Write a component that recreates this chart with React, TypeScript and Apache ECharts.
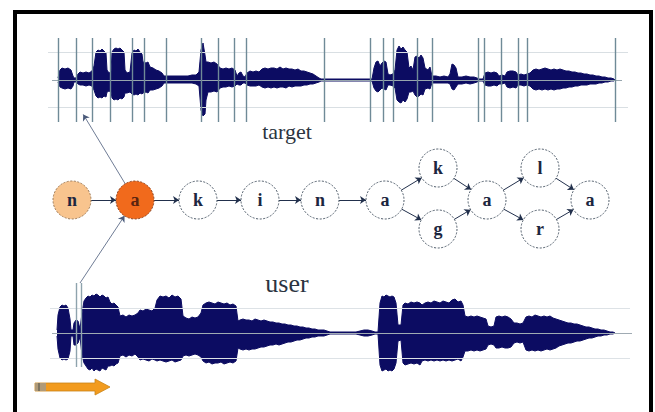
import { useEffect, useRef } from "react";
import * as echarts from "echarts";

// ---------- data ----------
// waveform envelopes: [time, upper amplitude, lower amplitude]
const targetEnvelope: number[][] = [
  [58, 2, 2], [60, 10, 7], [62, 12, 8], [65, 11, 9], [68, 12, 8], [71, 10, 9], [73, 4, 6], [74, 2, 2], [76, 2, 2],
  [78, 6, 4], [80, 8, 5], [83, 7, 5], [86, 8, 6], [89, 7, 5], [92, 9, 6], [94, 14, 10], [96, 28, 16], [98, 30, 18],
  [100, 29, 17], [102, 31, 18], [104, 29, 16], [106, 27, 17], [107, 10, 12], [109, 7, 11], [111, 8, 12], [112, 28, 18],
  [114, 31, 20], [116, 32, 19], [118, 31, 20], [120, 32, 18], [122, 30, 19], [124, 28, 17], [125, 10, 13], [127, 7, 13],
  [130, 8, 12], [132, 27, 14], [134, 30, 15], [136, 29, 14], [138, 31, 15], [140, 28, 13], [142, 26, 14], [143, 18, 13],
  [146, 17, 12], [148, 18, 13], [150, 13, 10], [153, 12, 10], [156, 10, 9], [159, 9, 8], [162, 7, 6], [164, 4, 3],
  [168, 4, 3], [172, 4, 3], [176, 4, 3], [180, 4, 3], [184, 4, 3], [188, 4, 3], [192, 5, 3], [196, 5, 4], [199, 8, 6],
  [201, 30, 30], [203, 37, 36], [205, 25, 34], [206, 18, 20], [208, 18, 12], [211, 17, 12], [214, 18, 11], [217, 16, 12],
  [220, 12, 8], [223, 11, 7], [226, 12, 7], [229, 11, 6], [232, 12, 7], [235, 10, 6], [237, 4, 4], [239, 7, 5], [241, 8, 5],
  [243, 4, 3], [245, 3, 3], [247, 7, 5], [250, 9, 6], [253, 8, 6], [256, 9, 6], [259, 8, 5], [262, 11, 7], [265, 12, 8],
  [268, 11, 7], [271, 12, 8], [274, 12, 7], [277, 11, 8], [280, 13, 7], [283, 11, 7], [286, 12, 8], [289, 11, 6],
  [292, 11, 7], [295, 10, 6], [298, 11, 6], [301, 9, 6], [304, 9, 5], [307, 8, 5], [310, 7, 4], [313, 6, 4], [316, 4, 3],
  [319, 2, 2], [321, 1, 1], [372, 1, 1], [374, 12, 8], [376, 18, 11], [378, 19, 12], [380, 14, 10], [382, 17, 8],
  [384, 19, 9], [386, 18, 10], [388, 6, 5], [390, 5, 5], [393, 6, 6], [395, 10, 8], [397, 30, 20], [399, 34, 22],
  [401, 31, 23], [403, 33, 20], [405, 30, 22], [407, 28, 19], [409, 12, 12], [411, 14, 12], [413, 10, 11], [415, 23, 15],
  [417, 24, 17], [419, 22, 16], [421, 25, 14], [423, 22, 15], [425, 12, 9], [428, 10, 8], [430, 13, 9], [432, 4, 3],
  [436, 4, 3], [440, 3, 3], [444, 4, 3], [448, 3, 3], [450, 6, 4], [452, 16, 9], [454, 15, 10], [456, 12, 7], [458, 3, 4],
  [462, 3, 4], [466, 4, 3], [470, 3, 4], [474, 3, 3], [477, 2, 2], [479, 1, 1], [483, 1, 1], [485, 7, 5], [488, 8, 6],
  [491, 7, 6], [494, 8, 5], [497, 7, 6], [499, 4, 4], [502, 5, 4], [505, 4, 3], [507, 8, 7], [510, 9, 8], [513, 9, 7],
  [516, 8, 8], [518, 5, 5], [521, 6, 5], [524, 5, 6], [527, 6, 5], [530, 7, 6], [533, 10, 9], [536, 11, 10], [539, 10, 9],
  [542, 11, 10], [545, 12, 9], [548, 11, 10], [551, 10, 9], [554, 11, 10], [557, 10, 9], [560, 11, 9], [563, 10, 8],
  [566, 9, 8], [569, 9, 7], [572, 8, 7], [575, 8, 6], [578, 7, 6], [581, 7, 5], [584, 6, 5], [587, 6, 5], [590, 5, 4],
  [593, 5, 4], [596, 4, 4], [599, 4, 3], [602, 3, 3], [605, 3, 2], [608, 2, 2], [611, 2, 1], [614, 1, 1], [615, 0, 0],
];

const userEnvelope: number[][] = [
  [57, 3, 3], [58, 18, 16], [60, 26, 25], [62, 28, 27], [64, 27, 26], [66, 28, 27], [68, 25, 26], [70, 14, 18], [71, 3, 3],
  [73, 3, 3], [74, 10, 12], [76, 13, 12], [78, 12, 10], [80, 4, 4], [82, 20, 22], [84, 32, 30], [86, 35, 33], [88, 37, 36],
  [90, 36, 37], [92, 38, 35], [94, 37, 38], [96, 39, 36], [98, 38, 37], [100, 36, 38], [102, 38, 35], [104, 37, 36],
  [106, 35, 37], [108, 36, 33], [110, 31, 33], [112, 29, 32], [114, 30, 33], [116, 28, 31], [118, 26, 30], [120, 17, 23],
  [123, 18, 22], [126, 16, 24], [129, 18, 22], [132, 17, 23], [135, 18, 21], [138, 20, 24], [140, 23, 27], [143, 22, 26],
  [146, 24, 27], [149, 23, 28], [152, 22, 26], [155, 25, 27], [157, 33, 28], [160, 37, 27], [163, 36, 28], [166, 37, 29],
  [169, 35, 28], [172, 38, 27], [175, 36, 29], [178, 37, 28], [181, 34, 27], [183, 17, 23], [186, 15, 22], [189, 14, 23],
  [192, 16, 22], [195, 15, 21], [198, 16, 22], [201, 20, 24], [203, 28, 28], [206, 30, 30], [209, 31, 29], [212, 30, 31],
  [215, 29, 30], [218, 31, 30], [221, 30, 29], [224, 29, 31], [227, 30, 30], [230, 28, 29], [233, 29, 30], [236, 27, 28],
  [238, 12, 15], [240, 13, 16], [243, 14, 17], [246, 13, 16], [249, 13, 17], [252, 12, 16], [255, 14, 16], [258, 13, 15],
  [261, 12, 14], [264, 13, 14], [267, 12, 13], [270, 11, 12], [273, 11, 12], [276, 10, 11], [279, 10, 12], [282, 9, 11],
  [285, 9, 10], [288, 8, 9], [291, 8, 9], [294, 7, 8], [297, 7, 7], [300, 6, 7], [303, 6, 6], [306, 5, 5], [309, 5, 5],
  [312, 4, 4], [315, 4, 4], [318, 3, 3], [321, 3, 3], [324, 3, 3], [327, 2, 2], [330, 1, 1], [356, 1, 1], [360, 2, 2],
  [364, 3, 3], [368, 3, 3], [372, 2, 2], [375, 1, 1], [378, 1, 1], [380, 30, 32], [382, 37, 38], [384, 36, 37],
  [386, 38, 36], [388, 37, 38], [390, 36, 37], [392, 37, 38], [394, 36, 36], [396, 30, 30], [398, 8, 8], [401, 8, 7],
  [403, 28, 30], [405, 30, 32], [408, 29, 31], [411, 31, 30], [414, 30, 31], [417, 31, 30], [420, 30, 32], [422, 28, 28],
  [425, 30, 27], [428, 31, 28], [431, 30, 27], [434, 32, 28], [437, 31, 27], [440, 30, 28], [443, 32, 27], [446, 31, 28],
  [449, 30, 27], [452, 33, 28], [455, 34, 27], [458, 31, 26], [461, 32, 28], [463, 28, 24], [465, 17, 18], [468, 16, 18],
  [471, 17, 17], [474, 16, 18], [477, 17, 17], [480, 16, 18], [483, 15, 17], [486, 14, 16], [488, 7, 12], [491, 6, 11],
  [494, 7, 12], [496, 16, 15], [499, 17, 15], [502, 16, 14], [505, 17, 15], [508, 16, 15], [511, 14, 14], [514, 10, 10],
  [517, 10, 9], [520, 9, 10], [523, 10, 9], [526, 16, 17], [529, 17, 18], [532, 16, 17], [535, 18, 18], [538, 17, 17],
  [541, 16, 18], [544, 17, 17], [547, 16, 16], [550, 17, 17], [553, 15, 16], [556, 14, 15], [559, 13, 13], [562, 12, 12],
  [565, 11, 11], [568, 10, 10], [571, 10, 10], [574, 9, 9], [577, 9, 8], [580, 8, 8], [583, 7, 7], [586, 6, 6],
  [589, 6, 5], [592, 5, 5], [595, 4, 4], [598, 4, 3], [601, 3, 3], [604, 3, 2], [607, 2, 2], [610, 1, 1], [613, 1, 1],
  [615, 0, 0],
];

// segment boundaries (time)
const targetBoundaries = [58, 76, 92, 110, 132, 144, 166, 201, 218, 234, 246, 324, 370, 383, 393, 417, 432, 478, 484, 501, 518, 527, 615];
const userBoundaries = [76, 81];

// pronunciation network
const nodeLetters = ["n", "a", "k", "i", "n", "a", "k", "g", "a", "l", "r", "a"];
const nodeTime = [72, 135, 198, 260, 320, 385, 438, 438, 487, 540, 540, 590];
const nodeLevel = [200, 200, 200, 200, 200, 200, 168, 229, 200, 168, 229, 200];
const nodeState = ["done", "current", "todo", "todo", "todo", "todo", "todo", "todo", "todo", "todo", "todo", "todo"];
const transitions: number[][] = [
  [0, 1], [1, 2], [2, 3], [3, 4], [4, 5], [5, 6], [5, 7], [6, 8], [7, 8], [8, 9], [8, 10], [9, 11], [10, 11],
];
// alignment pointers: [time, level] of the waveform anchors
const targetAnchor = [83, 114];
const userAnchor = [80, 283];

const NAVY = "#0c0c62";

export default function App() {
  const ref = useRef<HTMLDivElement>(null);
  useEffect(() => {
    if (!ref.current) return;
    const chart = echarts.init(ref.current, null, { renderer: "svg" });

    const waveSeries = (env: number[][], idx: number, name: string) => [
      {
        type: "line", name: name + "-up", xAxisIndex: idx, yAxisIndex: idx, z: 3, silent: true,
        data: env.map((p) => [p[0], p[1]]), symbol: "none",
        lineStyle: { color: NAVY, width: 1 }, areaStyle: { color: NAVY, opacity: 1 },
      },
      {
        type: "line", name: name + "-down", xAxisIndex: idx, yAxisIndex: idx, z: 3, silent: true,
        data: env.map((p) => [p[0], -p[2]]), symbol: "none",
        lineStyle: { color: NAVY, width: 1 }, areaStyle: { color: NAVY, opacity: 1 },
      },
    ];

    const hLine = (y: number, x0: number, x1: number, color: string) => [
      { coord: [x0, y], lineStyle: { color } },
      { coord: [x1, y] },
    ];

    const stateStyle = (s: string) =>
      s === "done"
        ? { color: "#f8c48e", borderColor: "#9c7a58", borderWidth: 1, borderType: [2, 1.5] }
        : s === "current"
        ? { color: "#f16a1c", borderColor: "#8a4422", borderWidth: 1, borderType: [2, 1.5] }
        : { color: "#ffffff", borderColor: "#4d5a68", borderWidth: 1, borderType: [2, 1.5] };

    const nodes: any[] = nodeLetters.map((l, i) => ({
      name: "s" + i,
      value: [nodeTime[i], nodeLevel[i]],
      symbolSize: 38,
      itemStyle: stateStyle(nodeState[i]),
      label: {
        show: true,
        formatter: l,
        color: nodeState[i] === "current" ? "#5a2410" : "#1c2640",
      },
    }));
    nodes.push({ name: "tAnchor", value: targetAnchor, symbolSize: 1, itemStyle: { opacity: 0 }, label: { show: false } });
    nodes.push({ name: "uAnchor", value: userAnchor, symbolSize: 1, itemStyle: { opacity: 0 }, label: { show: false } });
    const tIdx = nodeLetters.length;
    const uIdx = nodeLetters.length + 1;

    const links: any[] = transitions.map(([s, t]) => ({ source: s, target: t }));
    links.push({ source: 1, target: tIdx, lineStyle: { color: "#4a5a7a", width: 0.8 } });
    links.push({ source: uIdx, target: 1, lineStyle: { color: "#4a5a7a", width: 0.8 } });

    const axisBase = { show: false, splitLine: { show: false } };

    chart.setOption({
      animation: false,
      backgroundColor: "#ffffff",
      grid: [
        { left: 0, width: 655, top: 38, height: 84 },
        { left: 0, width: 655, top: 283, height: 100 },
        { left: 0, width: 655, top: 0, height: 412 },
      ],
      xAxis: [
        { ...axisBase, type: "value", gridIndex: 0, min: 0, max: 655 },
        { ...axisBase, type: "value", gridIndex: 1, min: 0, max: 655 },
        { ...axisBase, type: "value", gridIndex: 2, min: 0, max: 655 },
      ],
      yAxis: [
        { ...axisBase, type: "value", gridIndex: 0, min: -42, max: 42 },
        { ...axisBase, type: "value", gridIndex: 1, min: -50, max: 50 },
        { ...axisBase, type: "value", gridIndex: 2, min: 0, max: 412, inverse: true },
      ],
      series: [
        {
          type: "line", xAxisIndex: 0, yAxisIndex: 0, data: [], z: 1, silent: true,
          markLine: {
            symbol: "none", silent: true, label: { show: false },
            lineStyle: { type: "solid", width: 1 },
            data: [
              hLine(28, 48, 628, "#d9dfe3"),
              hLine(-27, 48, 628, "#d9dfe3"),
              hLine(0, 52, 622, "#98a6ae"),
            ],
          },
        },
        {
          type: "line", xAxisIndex: 1, yAxisIndex: 1, data: [], z: 1, silent: true,
          markLine: {
            symbol: "none", silent: true, label: { show: false },
            lineStyle: { type: "solid", width: 1 },
            data: [
              hLine(25, 50, 630, "#dde2e6"),
              hLine(-25, 50, 630, "#dde2e6"),
              hLine(0, 52, 632, "#a0abb3"),
            ],
          },
        },
        ...waveSeries(targetEnvelope, 0, "target"),
        ...waveSeries(userEnvelope, 1, "user"),
        {
          type: "line", xAxisIndex: 0, yAxisIndex: 0, data: [], z: 5, silent: true,
          markLine: {
            symbol: "none", silent: true, label: { show: false },
            lineStyle: { type: "solid", width: 1.4, color: "#6f8a97" },
            data: targetBoundaries.map((x) => ({ xAxis: x })),
          },
        },
        {
          type: "line", xAxisIndex: 1, yAxisIndex: 1, data: [], z: 5, silent: true,
          markLine: {
            symbol: "none", silent: true, label: { show: false },
            lineStyle: { type: "solid", width: 1.4, color: "#8ea3ad" },
            data: userBoundaries.map((x) => [{ coord: [x, 50] }, { coord: [x, -34] }]),
          },
        },
        {
          type: "graph",
          coordinateSystem: "cartesian2d",
          xAxisIndex: 2,
          yAxisIndex: 2,
          z: 4,
          silent: true,
          symbol: "circle",
          edgeSymbol: ["none", "arrow"],
          edgeSymbolSize: [0, 6],
          label: {
            show: true,
            position: "inside",
            fontFamily: "Liberation Serif, DejaVu Serif, serif",
            fontSize: 18,
            fontWeight: "bold",
          },
          lineStyle: { color: "#22304c", width: 1, opacity: 1, curveness: 0 },
          data: nodes,
          links,
        },
      ],
      graphic: [
        {
          type: "text", x: 287, y: 131, z: 10,
          style: {
            text: "target", fill: "#2b3441", font: "22px 'Liberation Serif', serif",
            textAlign: "center", textVerticalAlign: "middle",
          },
        },
        {
          type: "text", x: 287, y: 283, z: 10,
          style: {
            text: "user", fill: "#2b3441", font: "26px 'Liberation Serif', serif",
            textAlign: "center", textVerticalAlign: "middle",
          },
        },
        {
          type: "polygon", z: 10,
          shape: {
            points: [[35, 383], [95, 383], [95, 379], [110, 387], [95, 395], [95, 391], [35, 391]],
          },
          style: { fill: "#f29b1e", stroke: "#c98416", lineWidth: 0.8 },
        },
        { type: "rect", z: 11, shape: { x: 35, y: 383, width: 11, height: 8 }, style: { fill: "#b09a78" } },
        { type: "rect", z: 12, shape: { x: 38, y: 383, width: 2, height: 8 }, style: { fill: "#7d7460" } },
        {
          type: "rect", z: 20,
          shape: { x: 15, y: 12, width: 636, height: 440 },
          style: { fill: "none", stroke: "#000000", lineWidth: 4 },
        },
      ],
    });
    return () => chart.dispose();
  }, []);
  return <div ref={ref} style={{ position: "fixed", left: 0, top: 0, width: 655, height: 412 }} />;
}
